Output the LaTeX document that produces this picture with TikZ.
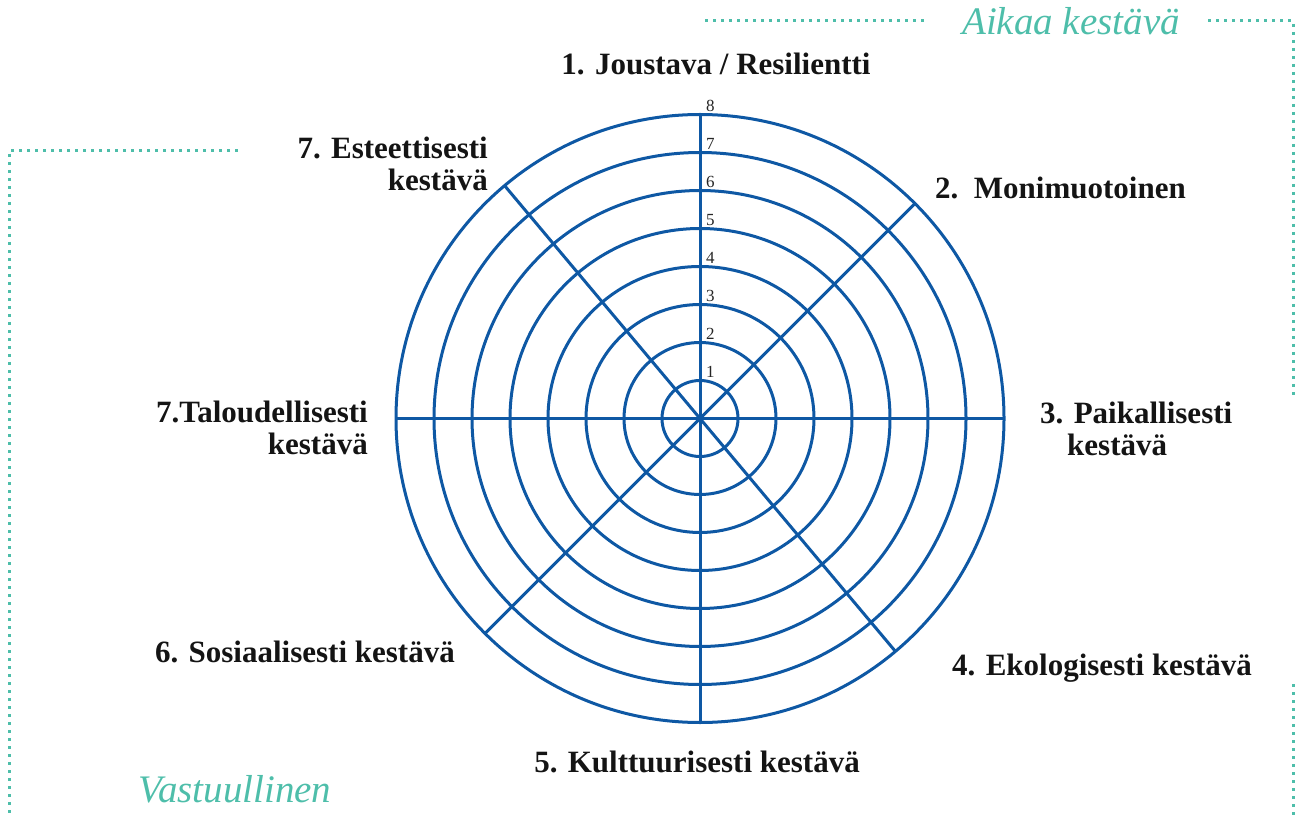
\documentclass[tikz,border=0pt]{standalone}
\usepackage{fontspec}
\setmainfont{Liberation Serif}[
  BoldFont={Liberation Serif Bold},
  ItalicFont={Liberation Serif Italic},
  BoldItalicFont={Liberation Serif Bold Italic}]

\definecolor{wheelblue}{RGB}{14,88,164}
\definecolor{dotteal}{RGB}{78,190,170}

\tikzset{
  ring/.style={draw=wheelblue, line width=3pt},
  spoke/.style={draw=wheelblue, line width=3pt},
  ringnum/.style={font=\fontsize{17}{19}\selectfont, text=black!85, inner sep=0pt, anchor=south west},
  axislabel/.style={font=\bfseries\fontsize{31}{32}\selectfont, text=black!92, inner sep=0pt},
  framelabel/.style={font=\itshape\fontsize{39}{42}\selectfont, text=dotteal, inner sep=0pt, anchor=base},
  framedots/.style={draw=dotteal, line width=3pt, dash pattern=on 3pt off 5pt}
}

\begin{document}
\begin{tikzpicture}[x=1pt, y=1pt]
    \useasboundingbox (0,0) rectangle (1295,815);

    % the wheel: eight rings and the spokes
    \begin{scope}[shift={(700,396.5)}]
      \coordinate (wc) at (0,0);
      \foreach \k in {1,...,8}
        \draw[ring] (wc) circle ({38*\k pt});
      \foreach \a in {0,45,90,130,180,225,270,310}
        \draw[spoke] (wc) -- (\a:304);
      \foreach \k in {1,...,8}
        \node[ringnum] (n\k) at (6,{38*\k+3}) {\k};
    \end{scope}

    % labels round the wheel
    \node[axislabel] (joustava) at (716,751) {1. Joustava / Resilientti};
    \node[axislabel, anchor=west] (monimuotoinen) at (935,627) {2.\ \ Monimuotoinen};
    \node[axislabel, anchor=west, align=left] (paikallisesti) at (1040,386) {3. Paikallisesti\\\hspace*{27pt}kestävä};
    \node[axislabel, anchor=west] (ekologisesti) at (952,147) {4. Ekologisesti kestävä};
    \node[axislabel] (kulttuurisesti) at (697,53) {5. Kulttuurisesti kestävä};
    \node[axislabel, anchor=east] (sosiaalisesti) at (455,163) {6. Sosiaalisesti kestävä};
    \node[axislabel, anchor=east, align=right] (taloudellisesti) at (368,387) {7.Taloudellisesti\\kestävä};
    \node[axislabel, anchor=east, align=right] (esteettisesti) at (488,651) {7. Esteettisesti\\kestävä};

    % the dotted frame
    \node[framelabel] (aikaa) at (1071,780) {Aikaa kestävä};
    \node[framelabel] (vastuullinen) at (235,13) {Vastuullinen};

    \draw[framedots] (705,794) -- (925,794);
    \draw[framedots] (1208,794) -- (1293,794) -- (1293,417);
    \draw[framedots] (1293,131) -- (1293,0);
    \draw[framedots] (238,664) -- (9,664) -- (9,0);

\end{tikzpicture}
\end{document}
